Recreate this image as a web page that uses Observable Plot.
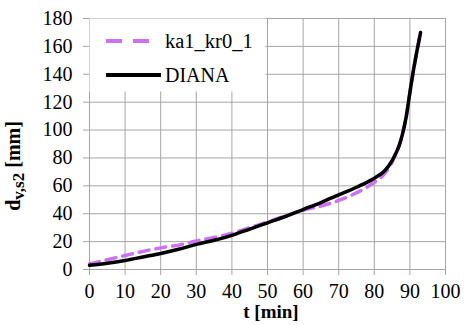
<!DOCTYPE html>
<html>
<head>
<meta charset="utf-8">
<script src="https://cdn.jsdelivr.net/npm/d3@7"></script>
<script src="https://cdn.jsdelivr.net/npm/@observablehq/plot@0.6"></script>
<style>
  body { margin: 0; background: #fff; }
  #chart { position: relative; width: 464px; height: 325px; }
  #chart svg text, #chart svg tspan { font-family: "Liberation Serif", "Times New Roman", serif; }
</style>
</head>
<body>
<div id="chart"></div>
<script>
const seriesNames = ["ka1_kr0_1", "DIANA"];
const tKa   = [0, 5, 10, 15, 20, 25, 30, 35, 40, 45, 50, 55, 60, 65, 70, 75, 80, 83, 85, 86, 87, 88, 89, 90, 91, 92, 93];
const dKa   = [4, 7, 10, 13, 15.5, 17.5, 20.5, 23, 26, 30, 34, 38.5, 42.5, 45.5, 49.5, 55, 62.5, 69, 77, 83, 89, 98, 110, 127, 143, 157, 170];
const tDiana = [0, 5, 10, 15, 20, 25, 30, 35, 40, 45, 50, 55, 60, 65, 70, 75, 80, 83, 85, 86, 87, 88, 89, 90, 91, 92, 93];
const dDiana = [3, 4.5, 6.5, 9, 11.5, 14.5, 18, 21, 24.5, 29, 33.5, 38, 43, 48, 53.5, 59, 65.5, 71, 78, 83, 89, 98, 110, 127, 143, 157, 170];
const xTicks = [0, 10, 20, 30, 40, 50, 60, 70, 80, 90, 100];
const yTicks = [0, 20, 40, 60, 80, 100, 120, 140, 160, 180];

const ka = tKa.map((t, i) => ({t, d: dKa[i]}));
const diana = tDiana.map((t, i) => ({t, d: dDiana[i]}));

const purple = "#cc70f5";
const font = "Liberation Serif";

const chart = Plot.plot({
  width: 464,
  height: 325,
  marginLeft: 89,
  marginRight: 19,
  marginTop: 18,
  marginBottom: 56,
  style: {fontFamily: font, fontSize: "20px", color: "#000", background: "#fff"},
  x: {domain: [0, 100]},
  y: {domain: [0, 180]},
  marks: [
    Plot.gridX(xTicks, {stroke: "#a6a6a6", strokeOpacity: 1, strokeWidth: 1}),
    Plot.gridY(yTicks, {stroke: "#a6a6a6", strokeOpacity: 1, strokeWidth: 1}),
    Plot.axisX({ticks: xTicks, tickSize: 6, tickPadding: 8, stroke: "#a6a6a6", label: null, fill: "#000", fontFamily: font, fontSize: 20}),
    Plot.axisY({ticks: yTicks, tickSize: 6, tickPadding: 11, stroke: "#a6a6a6", label: null, fill: "#000", fontFamily: font, fontSize: 20}),
    Plot.line(ka, {x: "t", y: "d", stroke: purple, strokeWidth: 3.5, strokeDasharray: "10,7", curve: "monotone-x"}),
    Plot.line(diana, {x: "t", y: "d", stroke: "#000", strokeWidth: 3.5, curve: "monotone-x"})
  ]
});
document.getElementById("chart").appendChild(chart);

const svg = d3.select(chart);
// legend
const lg = svg.append("g").attr("text-anchor", "start");
lg.append("rect").attr("x", 89.5).attr("y", 18.5).attr("width", 176).attr("height", 73).attr("fill", "#fff");
lg.append("line").attr("x1", 106).attr("x2", 150).attr("y1", 41).attr("y2", 41)
  .attr("stroke", purple).attr("stroke-width", 4).attr("stroke-dasharray", "16,11");
lg.append("line").attr("x1", 106).attr("x2", 161).attr("y1", 75).attr("y2", 75)
  .attr("stroke", "#000").attr("stroke-width", 4);
lg.append("text").attr("x", 165).attr("y", 48).attr("font-size", 20.5).text(seriesNames[0]);
lg.append("text").attr("x", 165).attr("y", 82).attr("font-size", 20).text(seriesNames[1]);

// axis labels
svg.append("text").attr("x", 271).attr("y", 318).attr("text-anchor", "middle")
  .attr("font-size", 19).attr("font-weight", "bold").text("t [min]");
const yl = svg.append("text").attr("transform", "translate(20,166) rotate(-90)").attr("text-anchor", "middle")
  .attr("font-size", 20).attr("font-weight", "bold");
yl.append("tspan").text("d");
yl.append("tspan").attr("font-size", 17).attr("dy", 4).text("v,s2");
yl.append("tspan").attr("dy", -4).text(" [mm]");
</script>
</body>
</html>
